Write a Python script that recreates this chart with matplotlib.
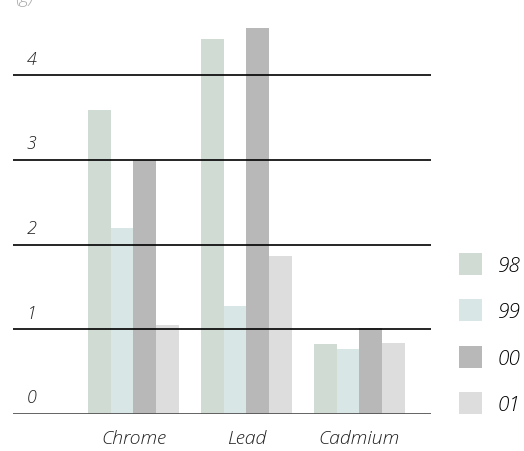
import matplotlib
matplotlib.use("Agg")
import matplotlib.pyplot as plt
import numpy as np

# data
metals = ["Chrome", "Lead", "Cadmium"]
years = ["98", "99", "00", "01"]
v98 = [3.59, 4.43, 0.83]
v99 = [2.20, 1.28, 0.77]
v00 = [3.00, 4.56, 1.02]
v01 = [1.05, 1.86, 0.84]
yticks = [0, 1, 2, 3, 4]

colors = ["#d0dcd3", "#d8e6e6", "#b8b8b8", "#dddddd"]

plt.rcParams["font.family"] = ["Open Sans", "DejaVu Sans"]
plt.rcParams["font.weight"] = 300

fig = plt.figure(figsize=(5.24, 4.52), dpi=100)
ax = fig.add_axes([13 / 524, 37 / 452, 418 / 524, 415 / 452])

x = np.arange(len(metals))
w = 0.2
series = [v98, v99, v00, v01]
for i, vals in enumerate(series):
    ax.bar(x + (i - 1.5) * w, vals, width=w, color=colors[i], label=years[i], zorder=1)

for t in yticks:
    if t == 0:
        ax.axhline(t, color="#555555", lw=2, zorder=3)
    else:
        ax.axhline(t, color="black", lw=1.2, zorder=3)
    ax.text(14 / 418, t + 0.09, str(t), transform=ax.get_yaxis_transform(),
            fontsize=13, style="italic", ha="left", va="bottom", color="#222222")

ax.set_xlim(-1.066, 2.633)
ax.set_ylim(0, 4.9)
ax.set_xticks(x)
ax.set_xticklabels(metals, fontsize=14, style="italic", color="#222222")
ax.tick_params(axis="x", length=0, pad=11)
ax.set_yticks([])
for s in ax.spines.values():
    s.set_visible(False)

ax.legend(loc="upper left", bbox_to_anchor=(459 / 524, 1 - 254 / 452),
          bbox_transform=fig.transFigure, frameon=False, borderpad=0,
          prop={"style": "italic", "size": 15, "weight": 300},
          handlelength=1.1, handleheight=1.25, labelspacing=1.12,
          handletextpad=0.75, borderaxespad=0)

fig.text(15 / 524, 1.004, "(g)", fontsize=13, color="#aaaaaa", va="center", style="italic")

fig.savefig("out.png", dpi=100)
